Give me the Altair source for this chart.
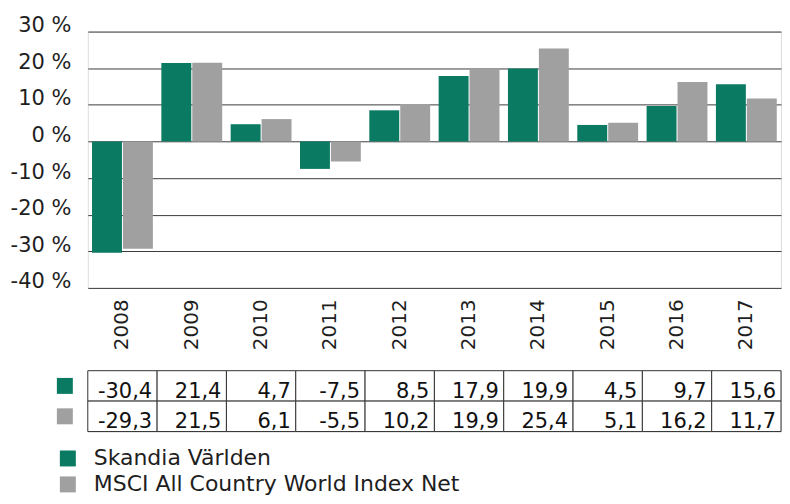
import altair as alt
import pandas as pd

years = ["2008", "2009", "2010", "2011", "2012", "2013", "2014", "2015", "2016", "2017"]
skandia = [-30.4, 21.4, 4.7, -7.5, 8.5, 17.9, 19.9, 4.5, 9.7, 15.6]
msci = [-29.3, 21.5, 6.1, -5.5, 10.2, 19.9, 25.4, 5.1, 16.2, 11.7]
series = ["Skandia Världen", "MSCI All Country World Index Net"]
colors = ["#0b7a62", "#a0a0a0"]
y_ticks = [-40, -30, -20, -10, 0, 10, 20, 30]

rows = []
for name, vals in zip(series, [skandia, msci]):
    for yr, v in zip(years, vals):
        rows.append({"year": yr, "series": name, "value": v,
                     "label": f"{v:.1f}".replace(".", ",")})
df = pd.DataFrame(rows)
df_keys = pd.DataFrame({"series": series})

FONT = "DejaVu Sans"
TXT = "#1e1e1e"
W = 695

color_scale = alt.Scale(domain=series, range=colors)
x_scale = alt.Scale(domain=years, paddingInner=0, paddingOuter=0)

bars = alt.Chart(df).mark_bar().encode(
    x=alt.X("year:N", sort=years, scale=x_scale,
            axis=alt.Axis(title=None, labelAngle=-90, labelFontSize=20, labelFont=FONT,
                          labelColor=TXT, ticks=False, tickSize=0, domain=False,
                          labelPadding=11)),
    xOffset=alt.XOffset("series:N", sort=series,
                        scale=alt.Scale(domain=series, paddingInner=0.032, paddingOuter=0.137)),
    y=alt.Y("value:Q", scale=alt.Scale(domain=[-40, 30], nice=False),
            axis=alt.Axis(values=y_ticks, title=None, labelExpr="datum.value + ' %'",
                          grid=True, gridColor="#3c3c3c", gridWidth=1, domain=False,
                          ticks=False, tickSize=0, labelPadding=17, labelFontSize=21,
                          labelFont=FONT, labelColor=TXT, labelBaseline="alphabetic")),
    color=alt.Color("series:N", scale=color_scale, sort=series,
                    legend=alt.Legend(title=None, orient="none", legendX=-31, legendY=417,
                                      symbolType="square", symbolSize=256,
                                      symbolStrokeWidth=0, labelFontSize=22,
                                      labelFont=FONT, labelColor=TXT, labelOffset=15,
                                      labelLimit=600, rowPadding=4, direction="vertical")),
).properties(width=W, height=257)

y_tab = alt.Y("series:N", sort=series,
              scale=alt.Scale(domain=series, paddingInner=0, paddingOuter=0), axis=None)

cells = alt.Chart(df).mark_rect(fill="white", stroke="#333333", strokeWidth=1).encode(
    x=alt.X("year:N", sort=years, scale=x_scale, axis=None),
    y=y_tab,
)
texts = alt.Chart(df).mark_text(align="right", baseline="middle", dx=-5, dy=6,
                                fontSize=21, font=FONT, color="#111111").encode(
    x=alt.X("year:N", sort=years, bandPosition=1, scale=x_scale, axis=None),
    y=y_tab,
    text="label:N",
)
keys = alt.Chart(df_keys).mark_point(shape="square", size=256, filled=True,
                                     opacity=1, strokeWidth=0).encode(
    x=alt.value(-23),
    y=y_tab,
    color=alt.Color("series:N", scale=color_scale, sort=series, legend=None),
)
table = alt.layer(cells, texts, keys).properties(width=W, height=61)

chart = alt.vconcat(bars, table, spacing=19).properties(
    padding={"left": 1, "top": 5, "right": 0, "bottom": 0}
).configure_view(stroke=None).configure(font=FONT)

chart.save("out.html", embed_options={"renderer": "svg", "actions": False})
